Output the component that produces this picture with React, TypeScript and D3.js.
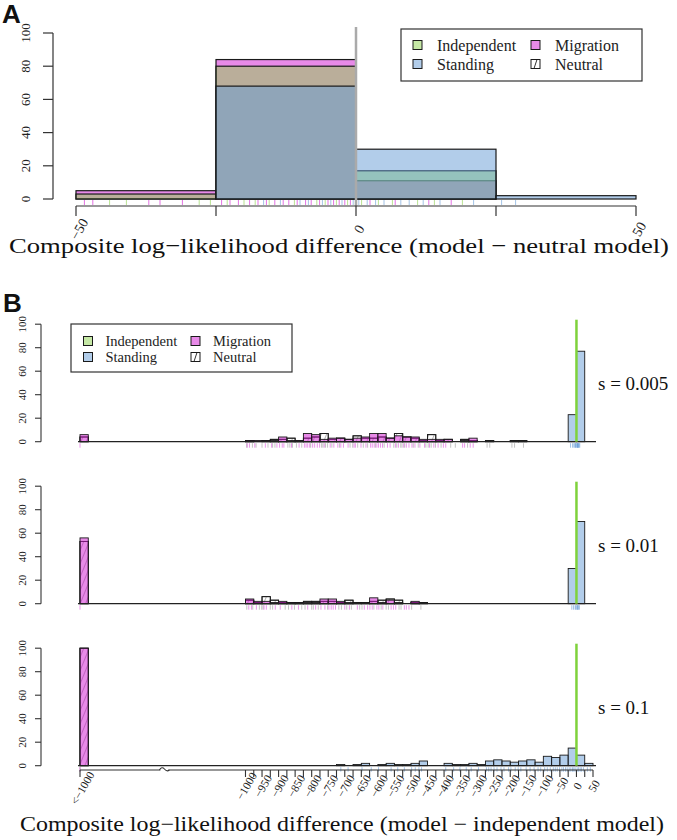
import React from "react";
import * as d3 from "d3";

// ---------------- Panel A data ----------------
const binEdgesA = [-50, -25, 0, 25, 50];
const independentA = [3, 80, 17, 0];
const standingA = [0, 68, 30, 2];
const migrationA = [5, 84, 11, 0];
const xTicksA = [-50, -25, 0, 25, 50];
const xTickLabelsA = ["−50", "", "0", "", "50"];
const yTicks = [0, 20, 40, 60, 80, 100];
const rugMigrationA = [-48.5, -47, -37, -35, -31, -24, -22.5, -21, -19, -17.5, -16, -14.5, -13, -12, -10.5, -9, -8, -6.5, -5, -4, -3, -2, -1, 2.5, 7, 13, 17];
const rugIndependentA = [-44, -41, -28, -26, -23, -20, -18, -15.5, -11, -7, -5.5, -3.5, -1.5, 1, 4, 6.5, 11, 14, 19];
const rugStandingA = [-16.5, -13.5, -10, -8.5, -6, -4.5, -2.5, -0.5, 0.5, 2, 3.5, 5, 8, 9.5, 12, 15, 21, 26, 28.5];

// ---------------- Panel B data ----------------
const binEdgesB = d3.range(-1000, 51, 25); // 42 bins of width 25
const lowBinEdges = [-1500, -1475]; // "<-1000" bin, shown left of the axis break
const lowTickValue = -1500;
const lowTickLabel = "<−1000";
const breakValue = -1245;
const xTicksB = d3.range(-1000, 51, 25);
const sLabels = ["s = 0.005", "s = 0.01", "s = 0.1"];

const migrationB1 = [1, 1, 0, 1, 4, 1, 1, 7, 6, 2, 3, 3, 2, 3, 4, 7, 7, 3, 5, 4, 4, 2, 2, 2, 2, 0, 1, 3, 0, 0, 0, 0, 0, 0, 0, 0, 0, 0, 0, 0, 0, 0];
const neutralB1 = [1, 0, 1, 2, 2, 3, 1, 3, 4, 7, 2, 3, 2, 5, 3, 3, 4, 3, 7, 4, 3, 1, 6, 1, 2, 0, 2, 1, 0, 1, 0, 0, 1, 1, 0, 0, 0, 0, 0, 0, 0, 0];
const standingB1 = [0, 0, 0, 0, 0, 0, 0, 0, 0, 0, 0, 0, 0, 0, 0, 0, 0, 0, 0, 0, 0, 0, 0, 0, 0, 0, 0, 0, 0, 0, 0, 0, 0, 0, 0, 0, 0, 0, 0, 23, 77, 0];

const migrationB2 = [4, 2, 2, 1, 2, 1, 1, 1, 1, 4, 4, 2, 1, 0, 0, 5, 1, 3, 1, 0, 2, 0, 0, 0, 0, 0, 0, 0, 0, 0, 0, 0, 0, 0, 0, 0, 0, 0, 0, 0, 0, 0];
const neutralB2 = [3, 1, 6, 3, 1, 1, 1, 2, 2, 2, 2, 1, 3, 1, 1, 2, 3, 4, 3, 0, 1, 1, 0, 0, 0, 0, 0, 0, 0, 0, 0, 0, 0, 0, 0, 0, 0, 0, 0, 0, 0, 0];
const standingB2 = [0, 0, 0, 0, 0, 0, 0, 0, 0, 0, 0, 0, 0, 0, 0, 0, 0, 0, 0, 0, 0, 0, 0, 0, 0, 0, 0, 0, 0, 0, 0, 0, 0, 0, 0, 0, 0, 0, 0, 30, 70, 0];

const migrationB3 = [0, 0, 0, 0, 0, 0, 0, 0, 0, 0, 0, 0, 0, 0, 0, 0, 0, 0, 0, 0, 0, 0, 0, 0, 0, 0, 0, 0, 0, 0, 0, 0, 0, 0, 0, 0, 0, 0, 0, 0, 0, 0];
const neutralB3 = [0, 0, 0, 0, 0, 0, 0, 0, 0, 0, 0, 0, 0, 0, 0, 0, 0, 0, 0, 0, 0, 0, 0, 0, 0, 0, 0, 0, 0, 0, 0, 0, 0, 0, 0, 0, 0, 0, 0, 0, 0, 0];
const standingB3 = [0, 0, 0, 0, 0, 0, 0, 0, 0, 0, 0, 1, 0, 1, 2, 0, 1, 2, 1, 1, 2, 4, 0, 0, 2, 1, 1, 2, 1, 4, 5, 4, 3, 4, 5, 3, 8, 7, 9, 15, 9, 2];

const lowMigrationB = [6, 56, 100];
const lowNeutralB = [4, 53, 100];

const rugMigrationB1 = [-1200, -995, -988, -972, -940, -921, -905, -897, -889, -884, -861, -838, -822, -817, -812, -806, -797, -791, -783, -776, -762, -744, -733, -721, -712, -704, -690, -672, -668, -651, -636, -622, -617, -611, -603, -598, -592, -586, -571, -563, -547, -538, -522, -514, -506, -497, -488, -473, -459, -444, -431, -418, -402, -395, -344, -338, -321, -312];
const rugNeutralB1 = [-996, -979, -968, -950, -932, -918, -911, -872, -866, -858, -846, -830, -803, -770, -766, -758, -752, -739, -716, -684, -676, -661, -644, -631, -607, -581, -552, -543, -531, -527, -519, -493, -478, -455, -448, -439, -426, -409, -380, -366, -329, -270, -262, -195, -187, -160];
const rugStandingB1 = [-18, -12, -8, -5, -3, -2, 1, 2, 3, 4, 5, 6, 8, 10];

const rugMigrationB2 = [-1200, -990, -982, -967, -944, -937, -910, -895, -860, -840, -812, -788, -772, -760, -748, -741, -735, -728, -700, -686, -662, -641, -631, -624, -617, -603, -597, -585, -560, -553, -546, -520, -514, -506];
const rugNeutralB2 = [-996, -978, -958, -951, -947, -925, -918, -880, -870, -852, -830, -820, -800, -795, -780, -752, -718, -710, -694, -680, -655, -648, -612, -590, -575, -568, -536, -530, -498, -470];
const rugStandingB2 = [-14, -9, -4, -2, 1, 3, 4, 6, 9];

const rugMigrationB3 = [-1200];
const rugNeutralB3 = [-1200];
const rugStandingB3 = [-712, -690, -648, -620, -598, -560, -540, -520, -498, -487, -476, -468, -395, -371, -352, -333, -318, -296, -272, -265, -258, -249, -240, -228, -219, -205, -198, -185, -176, -168, -152, -140, -128, -116, -108, -96, -88, -79, -70, -64, -58, -51, -44, -39, -33, -28, -22, -17, -12, -8, -4, 2, 6, 11, 15, 21, 33, 42];

const subplotsB = [
  { mig: migrationB1, neu: neutralB1, std: standingB1, rugM: rugMigrationB1, rugN: rugNeutralB1, rugS: rugStandingB1 },
  { mig: migrationB2, neu: neutralB2, std: standingB2, rugM: rugMigrationB2, rugN: rugNeutralB2, rugS: rugStandingB2 },
  { mig: migrationB3, neu: neutralB3, std: standingB3, rugM: rugMigrationB3, rugN: rugNeutralB3, rugS: rugStandingB3 },
];

const legendLabels = ["Independent", "Standing", "Migration", "Neutral"];

// ---------------- style ----------------
const SERIF = "Liberation Serif, DejaVu Serif, serif";
const SANS = "Liberation Sans, DejaVu Sans, sans-serif";
const COL = {
  Independent: "rgb(139,209,75)",
  Standing: "rgb(101,155,213)",
  Migration: "rgb(209,21,209)",
};
const ALPHA = 0.5;
const STROKE = "#1a1a1a";
const serif = (size: number) => ({ fontFamily: SERIF, fontSize: size + "px" });

function LegendBox({ x, y, w, h, fs, sq, colX, rowY, textDx }: any) {
  const items = [
    { label: legendLabels[0], fill: COL.Independent, c: 0, r: 0 },
    { label: legendLabels[1], fill: COL.Standing, c: 0, r: 1 },
    { label: legendLabels[2], fill: COL.Migration, c: 1, r: 0 },
    { label: legendLabels[3], fill: null, c: 1, r: 1 },
  ];
  return (
    <g>
      <rect x={x} y={y} width={w} height={h} fill="white" stroke="#333" strokeWidth={1.2} />
      {items.map((it, i) => {
        const cx = colX[it.c];
        const cy = rowY[it.r];
        return (
          <g key={i}>
            <rect x={cx - sq / 2} y={cy - sq / 2} width={sq} height={sq} fill="white" stroke="none" />
            {it.fill ? (
              <rect x={cx - sq / 2} y={cy - sq / 2} width={sq} height={sq} fill={it.fill} fillOpacity={ALPHA} stroke={STROKE} strokeWidth={1} />
            ) : (
              <g>
                <rect x={cx - sq / 2} y={cy - sq / 2} width={sq} height={sq} fill="white" stroke={STROKE} strokeWidth={1} />
                <line x1={cx - 1.5} y1={cy + sq / 2} x2={cx + 1.5} y2={cy - sq / 2} stroke={STROKE} strokeWidth={0.9} />
              </g>
            )}
            <text x={cx + textDx} y={cy} dy="0.35em" style={serif(fs)} fill="#222">
              {it.label}
            </text>
          </g>
        );
      })}
    </g>
  );
}

export default function App() {
  // ----- Panel A scales -----
  const xA = d3.scaleLinear().domain([-50, 50]).range([76, 636]);
  const yA = d3.scaleLinear().domain([0, 100]).range([199, 33]);

  const barsA = (counts: number[], color: string, key: string) =>
    counts.map((c, i) =>
      c > 0 ? (
        <rect
          key={key + i}
          x={xA(binEdgesA[i])}
          y={yA(c)}
          width={xA(binEdgesA[i + 1]) - xA(binEdgesA[i])}
          height={yA(0) - yA(c)}
          fill={color}
          fillOpacity={ALPHA}
          stroke={STROKE}
          strokeWidth={1.2}
        />
      ) : null
    );

  const rugA = (vals: number[], color: string, key: string) =>
    vals.map((v, i) => (
      <line key={key + i} x1={xA(v)} x2={xA(v)} y1={200} y2={205} stroke={color} strokeOpacity={0.6} strokeWidth={1} />
    ));

  // ----- Panel B scales -----
  const xB = d3.scaleLinear().domain([-1500, 50]).range([80, 593]);
  const basesB = [441.7, 603.7, 765.7];
  const plotH = 117.5;
  const bw = xB(binEdgesB[1]) - xB(binEdgesB[0]);
  const rugX = (v: number) => (v < -1000 ? xB(lowTickValue) : xB(v));

  const axisY = 770;

  return (
    <svg width={677} height={840} style={{ position: "absolute", left: 0, top: 0, background: "white" }}>
      <defs>
        <pattern id="hatch" patternUnits="userSpaceOnUse" width={5} height={5} patternTransform="rotate(22)">
          <line x1={0} y1={0} x2={0} y2={5} stroke="#444" strokeWidth={0.8} />
        </pattern>
      </defs>
      <rect x={0} y={0} width={677} height={840} fill="white" />

      {/* ================= Panel A ================= */}
      <text x={2} y={23} style={{ fontFamily: SANS, fontWeight: "bold", fontSize: "26px" }} fill="#111">A</text>

      {/* y axis */}
      <line x1={53} x2={53} y1={yA(0)} y2={yA(100)} stroke="#333" strokeWidth={1.2} />
      {yTicks.map((t) => (
        <g key={"ya" + t}>
          <line x1={43} x2={53} y1={yA(t)} y2={yA(t)} stroke="#333" strokeWidth={1.2} />
          <text transform={`translate(30,${yA(t)}) rotate(-90)`} textAnchor="middle" style={serif(13)} fill="#222">
            {t}
          </text>
        </g>
      ))}

      {/* bars */}
      {barsA(migrationA, COL.Migration, "ma")}
      {barsA(independentA, COL.Independent, "ia")}
      {barsA(standingA, COL.Standing, "sa")}

      {/* rug */}
      {rugA(rugMigrationA, COL.Migration, "rma")}
      {rugA(rugIndependentA, COL.Independent, "ria")}
      {rugA(rugStandingA, COL.Standing, "rsa")}

      {/* neutral reference line */}
      <line x1={xA(0)} x2={xA(0)} y1={27} y2={206} stroke="#aaaaaa" strokeWidth={2.5} />

      {/* x axis */}
      <line x1={xA(-50)} x2={xA(50)} y1={206} y2={206} stroke="#333" strokeWidth={1.2} />
      {xTicksA.map((t, i) => (
        <g key={"xa" + t}>
          <line x1={xA(t)} x2={xA(t)} y1={206} y2={216} stroke="#333" strokeWidth={1.2} />
          {xTickLabelsA[i] ? (
            <text transform={`translate(${xA(t) + 3},229) rotate(-60)`} textAnchor="middle" dy="0.35em" style={serif(14)} fill="#222">
              {xTickLabelsA[i]}
            </text>
          ) : null}
        </g>
      ))}

      <LegendBox x={401} y={29} w={241} h={52} fs={16} sq={9} colX={[417.5, 535.5]} rowY={[45, 64]} textDx={19.5} />

      <text x={339} y={253} textAnchor="middle" style={serif(22)} textLength={660} lengthAdjust="spacingAndGlyphs" fill="#111">
        Composite log−likelihood difference (model − neutral model)
      </text>

      {/* ================= Panel B ================= */}
      <text x={3} y={312} style={{ fontFamily: SANS, fontWeight: "bold", fontSize: "26px" }} fill="#111">B</text>

      {subplotsB.map((sp, k) => {
        const base = basesB[k];
        const yB = d3.scaleLinear().domain([0, 100]).range([base, base - plotH]);
        const binRect = (c: number, i: number, fill: any, key: string, op: number) =>
          c > 0 ? (
            <rect key={key + i} x={xB(binEdgesB[i])} y={yB(c)} width={bw} height={yB(0) - yB(c)} fill={fill} fillOpacity={op} stroke={STROKE} strokeWidth={0.9} />
          ) : null;
        const lowRect = (c: number, fill: any, key: string, op: number) =>
          c > 0 ? (
            <rect key={key} x={xB(lowBinEdges[0])} y={yB(c)} width={xB(lowBinEdges[1]) - xB(lowBinEdges[0])} height={yB(0) - yB(c)} fill={fill} fillOpacity={op} stroke={STROKE} strokeWidth={0.9} />
          ) : null;
        return (
          <g key={"sp" + k}>
            {/* y axis */}
            <line x1={41} x2={41} y1={yB(0)} y2={yB(100)} stroke="#333" strokeWidth={1.1} />
            {yTicks.map((t) => (
              <g key={"yb" + t}>
                <line x1={35} x2={41} y1={yB(t)} y2={yB(t)} stroke="#333" strokeWidth={1.1} />
                <text transform={`translate(26,${yB(t)}) rotate(-90)`} textAnchor="middle" style={serif(11)} fill="#222">
                  {t}
                </text>
              </g>
            ))}

            {/* Neutral (white, hatched) */}
            {lowRect(lowNeutralB[k], "white", "ln", 1)}
            {lowRect(lowNeutralB[k], "url(#hatch)", "lnh", 1)}
            {sp.neu.map((c, i) => binRect(c, i, "white", "nw", 1))}
            {sp.neu.map((c, i) => binRect(c, i, "url(#hatch)", "nh", 1))}
            {/* Migration */}
            {lowRect(lowMigrationB[k], COL.Migration, "lm", ALPHA)}
            {sp.mig.map((c, i) => binRect(c, i, COL.Migration, "m", ALPHA))}
            {/* Standing */}
            {sp.std.map((c, i) => binRect(c, i, COL.Standing, "s", ALPHA))}

            {/* baseline */}
            <line x1={78} x2={596} y1={base} y2={base} stroke="#222" strokeWidth={1.3} />

            {/* rugs */}
            {sp.rugN.map((v, i) => (
              <line key={"rn" + i} x1={rugX(v)} x2={rugX(v)} y1={base + 1.5} y2={base + 6} stroke="#888" strokeOpacity={0.5} strokeWidth={1} />
            ))}
            {sp.rugM.map((v, i) => (
              <line key={"rm" + i} x1={rugX(v)} x2={rugX(v)} y1={base + 1.5} y2={base + 6} stroke={COL.Migration} strokeOpacity={0.45} strokeWidth={1} />
            ))}
            {sp.rugS.map((v, i) => (
              <line key={"rs" + i} x1={rugX(v)} x2={rugX(v)} y1={base + 1.5} y2={base + 6} stroke={COL.Standing} strokeOpacity={0.6} strokeWidth={1} />
            ))}

            {/* independent reference line */}
            <line x1={xB(0)} x2={xB(0)} y1={base - 122} y2={base} stroke="#7fd23c" strokeWidth={2.5} />

            <text x={598} y={base - 52} style={serif(19)} fill="#111">
              {sLabels[k]}
            </text>
          </g>
        );
      })}

      <LegendBox x={71} y={324} w={221} h={48} fs={14.5} sq={9} colX={[88, 195.5]} rowY={[341, 357]} textDx={17.5} />

      {/* x axis B with break */}
      <line x1={xB(lowTickValue)} x2={xB(50)} y1={axisY} y2={axisY} stroke="#333" strokeWidth={1.2} />
      <rect x={xB(breakValue) - 4} y={axisY - 2} width={8} height={4} fill="white" />
      <path
        d={`M${xB(breakValue) - 5},${axisY} Q${xB(breakValue) - 2.5},${axisY - 4} ${xB(breakValue)},${axisY - 1} T${xB(breakValue) + 5},${axisY}`}
        fill="none"
        stroke="#333"
        strokeWidth={1.1}
      />
      <line x1={xB(lowTickValue)} x2={xB(lowTickValue)} y1={axisY} y2={axisY + 7} stroke="#333" strokeWidth={1.1} />
      <text transform={`translate(${xB(lowTickValue) + 2.5},788) rotate(-60)`} textAnchor="middle" dy="0.35em" style={serif(11.5)} fill="#222">
        {lowTickLabel}
      </text>
      {xTicksB.map((t) => (
        <g key={"xb" + t}>
          <line x1={xB(t)} x2={xB(t)} y1={axisY} y2={axisY + 7} stroke="#333" strokeWidth={1.1} />
          {t % 50 === 0 ? (
            <text transform={`translate(${xB(t) + 1},786) rotate(-60)`} textAnchor="middle" dy="0.35em" style={serif(11.5)} fill="#222">
              {t < 0 ? "−" + Math.abs(t) : String(t)}
            </text>
          ) : null}
        </g>
      ))}

      <text x={342} y={831} textAnchor="middle" style={serif(21)} textLength={644} lengthAdjust="spacingAndGlyphs" fill="#111">
        Composite log−likelihood difference (model − independent model)
      </text>
    </svg>
  );
}
